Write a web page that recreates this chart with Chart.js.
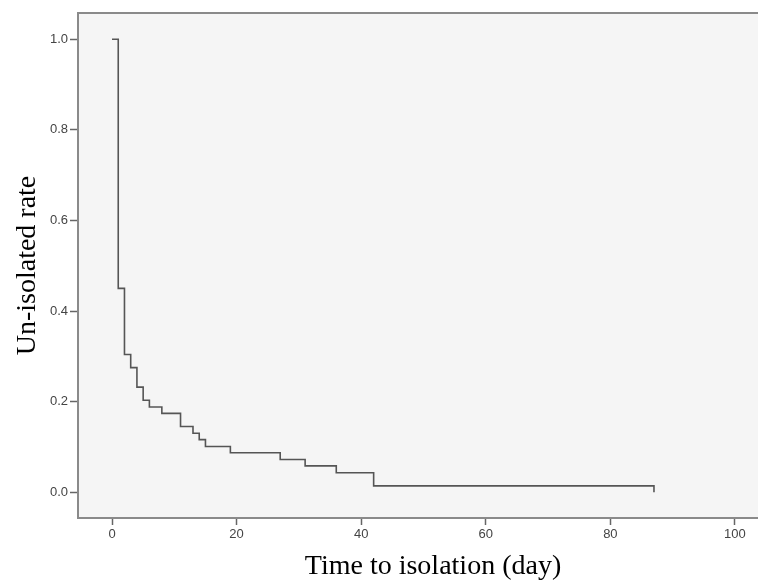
<!DOCTYPE html>
<html>
<head>
<meta charset="utf-8">
<script src="https://cdn.jsdelivr.net/npm/chart.js@4/dist/chart.umd.min.js"></script>
<style>
  html, body { margin: 0; padding: 0; background: #fff; overflow: hidden; }
  #wrap { width: 758px; height: 580px; }
</style>
</head>
<body>
<div id="wrap"><canvas id="kmChart" width="758" height="580"></canvas></div>
<script>
// Dados (Kaplan-Meier)
const dias = [0, 1, 2, 3, 4, 5, 6, 8, 11, 13, 14, 15, 19, 27, 31, 36, 42, 87];
const taxa = [1.0, 0.45, 0.304, 0.275, 0.232, 0.203, 0.188, 0.174, 0.145, 0.130, 0.116, 0.101, 0.087, 0.072, 0.058, 0.043, 0.014, 0.0];
const xTicks = [0, 20, 40, 60, 80, 100];
const yTicks = [0.0, 0.2, 0.4, 0.6, 0.8, 1.0];

const xTitulo = 'Time to isolation (day)';
const yTitulo = 'Un-isolated rate';

// fundo da área do gráfico + linha superior + títulos dos eixos
const moldura = {
    id: 'moldura',
    beforeDraw(chart) {
        const { ctx, chartArea: a } = chart;
        ctx.save();
        ctx.fillStyle = '#f5f5f5';
        ctx.fillRect(a.left, a.top, a.right - a.left, a.bottom - a.top);
        ctx.restore();
    },
    afterDraw(chart) {
        const { ctx, chartArea: a } = chart;
        ctx.save();
        ctx.strokeStyle = '#8a8a8a';
        ctx.lineWidth = 2;
        ctx.beginPath();
        ctx.moveTo(a.left, a.top);
        ctx.lineTo(a.right, a.top);
        ctx.stroke();

        ctx.fillStyle = '#000';
        ctx.font = '28px "Liberation Serif", "Times New Roman", serif';
        ctx.textAlign = 'center';
        ctx.textBaseline = 'alphabetic';
        ctx.fillText(xTitulo, (a.left + a.right) / 2 + 15, 574);

        ctx.translate(35, (a.top + a.bottom) / 2);
        ctx.rotate(-Math.PI / 2);
        ctx.fillText(yTitulo, 0, 0);
        ctx.restore();
    }
};

const tickFont = { family: '"Liberation Sans", Arial, sans-serif', size: 13 };

new Chart(document.getElementById('kmChart'), {
    type: 'line',
    data: {
        datasets: [{
            data: dias.map((d, i) => ({ x: d, y: taxa[i] })),
            stepped: 'before',
            borderColor: '#555555',
            borderWidth: 1.6,
            pointRadius: 0,
            fill: false
        }]
    },
    options: {
        responsive: false,
        animation: false,
        layout: { padding: { top: 13, right: 0, left: 0, bottom: 0 } },
        plugins: { legend: { display: false }, tooltip: { enabled: false } },
        scales: {
            x: {
                type: 'linear',
                min: -5.46,
                max: 103.7,
                afterBuildTicks: s => { s.ticks = xTicks.map(v => ({ value: v })); },
                afterFit: s => { s.height = 62; },
                border: { color: '#8a8a8a', width: 2 },
                grid: { drawOnChartArea: false, tickLength: 7, tickColor: '#666', tickWidth: 1.5 },
                ticks: { font: tickFont, color: '#444', padding: 2, maxRotation: 0, callback: v => String(v) }
            },
            y: {
                type: 'linear',
                min: -0.057,
                max: 1.058,
                afterBuildTicks: s => { s.ticks = yTicks.map(v => ({ value: v })); },
                afterFit: s => { s.width = 78; },
                border: { color: '#8a8a8a', width: 2 },
                grid: { drawOnChartArea: false, tickLength: 8, tickColor: '#666', tickWidth: 1.5 },
                ticks: { font: tickFont, color: '#444', padding: 2, callback: v => v.toFixed(1) }
            }
        }
    },
    plugins: [moldura]
});
</script>
</body>
</html>
